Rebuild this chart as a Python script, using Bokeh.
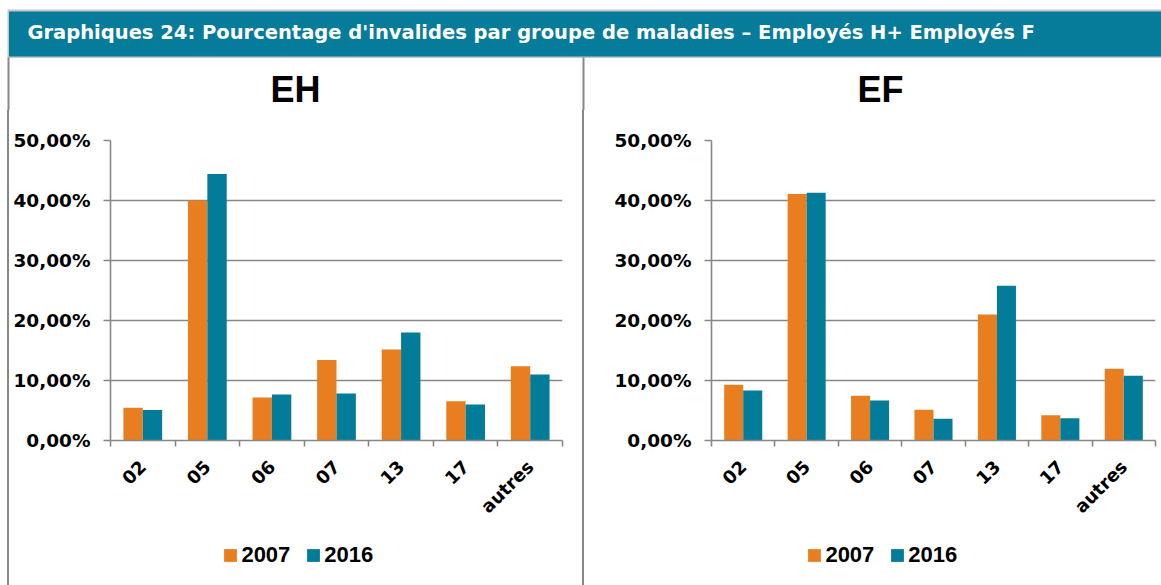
import numpy as np
from bokeh.plotting import figure
from bokeh.models import (Range1d, FixedTicker, Label, Legend, LegendItem, Div,
                          ColumnDataSource, BoxAnnotation)
from bokeh.layouts import column, row
from bokeh.transform import dodge
from bokeh.embed import file_html
from bokeh.resources import INLINE

# ---------------- data ----------------
categories = ["02", "05", "06", "07", "13", "17", "autres"]
series_names = ["2007", "2016"]
eh_2007 = [5.45, 40.0, 7.17, 13.4, 15.17, 6.56, 12.39]
eh_2016 = [5.1, 44.4, 7.67, 7.83, 18.0, 6.0, 11.0]
ef_2007 = [9.28, 41.1, 7.44, 5.11, 21.0, 4.22, 11.94]
ef_2016 = [8.33, 41.28, 6.67, 3.61, 25.8, 3.72, 10.78]
y_ticks = [0, 10, 20, 30, 40, 50]
chart_titles = ["EH", "EF"]
header_text = "Graphiques 24: Pourcentage d'invalides par groupe de maladies \u2013 Employés  H+ Employés  F"

# ---------------- style ----------------
ORANGE = "#E87E1F"
TEAL = "#037C99"
GRAY = "#878787"
HEADER = "#077B9A"
TICK_FONT = "DejaVu Sans"
CHART_H = 420
LEG_H = 55
COL_H = CHART_H + LEG_H


def make_source(v07, v16):
    n = len(categories)
    return ColumnDataSource(dict(x=[i + 0.5 for i in range(n)], cat=categories, y07=v07, y16=v16))


def add_bars(p, src, visible=True):
    r1 = p.vbar(x=dodge("x", -0.15), top="y07", width=0.3, source=src,
                fill_color=ORANGE, line_color=None, visible=visible)
    r2 = p.vbar(x=dodge("x", 0.15), top="y16", width=0.3, source=src,
                fill_color=TEAL, line_color=None, visible=visible)
    return r1, r2


def make_chart(src, width, left, right):
    n = len(categories)
    p = figure(width=width, height=CHART_H, x_range=Range1d(0, n), y_range=Range1d(0, 50),
               output_backend="svg", toolbar_location=None,
               min_border_left=left, min_border_right=right,
               min_border_top=30, min_border_bottom=90)
    p.outline_line_color = None
    p.background_fill_color = "white"
    p.border_fill_color = "white"
    add_bars(p, src)

    xa = p.xaxis[0]
    xa.ticker = FixedTicker(ticks=[i + 0.5 for i in range(n)], minor_ticks=list(range(n + 1)))
    xa.major_label_overrides = {i + 0.5: c for i, c in enumerate(categories)}
    xa.major_tick_line_color = None
    xa.major_tick_out = 0
    xa.major_tick_in = 0
    xa.minor_tick_out = 6
    xa.minor_tick_in = 0
    xa.minor_tick_line_color = GRAY
    xa.minor_tick_line_width = 1.6
    xa.axis_line_color = GRAY
    xa.axis_line_width = 1.6
    xa.major_label_orientation = np.pi / 4
    xa.major_label_standoff = 17
    xa.major_label_text_font = TICK_FONT
    xa.major_label_text_font_style = "bold"
    xa.major_label_text_font_size = "18px"
    xa.major_label_text_color = "black"

    ya = p.yaxis[0]
    ya.ticker = FixedTicker(ticks=y_ticks)
    ya.major_label_overrides = {t: f"{t:.2f}".replace(".", ",") + "%" for t in y_ticks}
    ya.minor_tick_line_color = None
    ya.major_tick_out = 7
    ya.major_tick_in = 0
    ya.major_tick_line_color = GRAY
    ya.major_tick_line_width = 1.6
    ya.axis_line_color = GRAY
    ya.axis_line_width = 1.6
    ya.major_label_standoff = 13
    ya.major_label_text_font = TICK_FONT
    ya.major_label_text_font_style = "bold"
    ya.major_label_text_font_size = "18.5px"
    ya.major_label_text_color = "black"

    p.xgrid.visible = False
    p.ygrid.grid_line_color = GRAY
    p.ygrid.grid_line_width = 1.6
    return p


def make_legend(src, width, legend_x):
    lg = figure(width=width, height=LEG_H, x_range=Range1d(0, 1), y_range=Range1d(0, 1),
                output_backend="svg", toolbar_location=None,
                x_axis_location=None, y_axis_location=None, min_border=0)
    lg.grid.visible = False
    lg.outline_line_color = None
    lg.background_fill_color = "white"
    lg.border_fill_color = "white"
    swatches = add_bars(lg, src, visible=False)
    legend = Legend(items=[LegendItem(label=s, renderers=[r]) for s, r in zip(series_names, swatches)],
                    orientation="horizontal", location=(legend_x, 17),
                    glyph_width=16, glyph_height=16, label_standoff=3, spacing=15,
                    padding=0, margin=0, border_line_color=None, background_fill_alpha=0,
                    inactive_fill_alpha=0,
                    label_text_font="Liberation Sans", label_text_font_style="bold",
                    label_text_font_size="22px", label_text_color="black")
    lg.add_layout(legend, "center")
    return lg


eh_src = make_source(eh_2007, eh_2016)
ef_src = make_source(ef_2007, ef_2016)
left = make_chart(eh_src, width=573, left=101, right=20)
right = make_chart(ef_src, width=577, left=127, right=6)
left_leg = make_legend(eh_src, 573, 112.4)
right_leg = make_legend(ef_src, 577, 95.4)

# ---------------- header + chart titles (page pixel coordinates) ----------------
TOP_H = 110
top = figure(width=1161, height=TOP_H, x_range=Range1d(0, 1161), y_range=Range1d(0, TOP_H),
             output_backend="svg", toolbar_location=None,
             x_axis_location=None, y_axis_location=None, min_border=0)
top.grid.visible = False
top.outline_line_color = None
top.background_fill_color = "white"
top.border_fill_color = "white"


def py(y):
    return TOP_H - y


top.add_layout(BoxAnnotation(left=7, right=1161, top=py(9), bottom=py(57.5),
                             fill_color="#c6c6c6", fill_alpha=1, line_color=None))
top.add_layout(BoxAnnotation(left=8.5, right=1161, top=py(11), bottom=py(56),
                             fill_color=HEADER, fill_alpha=1, line_color=None))
top.add_layout(BoxAnnotation(left=7, right=9, top=py(57), bottom=py(TOP_H),
                             fill_color=GRAY, fill_alpha=1, line_color=None))
top.add_layout(BoxAnnotation(left=582, right=584, top=py(57), bottom=py(TOP_H),
                             fill_color=GRAY, fill_alpha=1, line_color=None))
top.add_layout(Label(x=27, y=py(32.3), text=header_text, text_color="white",
                     text_font="DejaVu Sans", text_font_style="bold", text_font_size="19.5px",
                     text_baseline="middle", text_align="left"))
for t, cx in zip(chart_titles, [295, 880]):
    top.add_layout(Label(x=cx, y=py(89), text=t, text_align="center", text_baseline="middle",
                         text_font="Liberation Sans", text_font_style="bold", text_font_size="36px",
                         text_color="black"))

pad = Div(width=7, height=COL_H, margin=0)
bar_l = Div(width=2, height=COL_H, margin=0, styles={"background-color": GRAY})
bar_m = Div(width=2, height=COL_H, margin=0, styles={"background-color": GRAY})

layout = column(top, row(pad, bar_l, column(left, left_leg), bar_m, column(right, right_leg)))

open("out.html", "w").write(file_html(layout, INLINE))
